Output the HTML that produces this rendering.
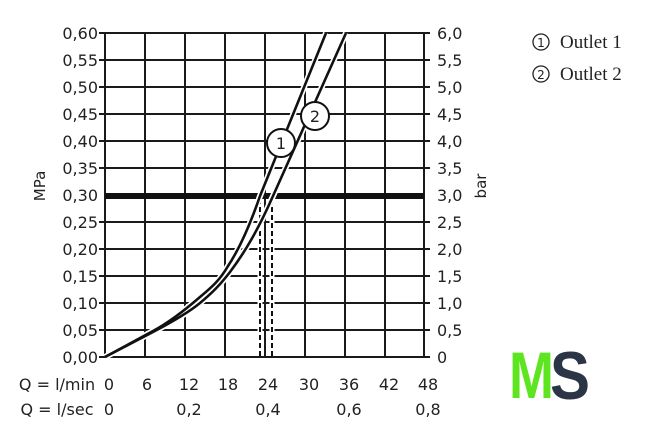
<!DOCTYPE html>
<html><head><meta charset="utf-8"><style>
html,body{margin:0;padding:0;background:#fff;width:652px;height:443px;overflow:hidden}
text{font-family:"DejaVu Sans","Liberation Sans",sans-serif;fill:#222}
</style></head><body>
<svg width="652" height="443" viewBox="0 0 652 443" xmlns="http://www.w3.org/2000/svg">
<g stroke="#1a1a1a" stroke-width="2">
<line x1="105" y1="33" x2="105" y2="357"/><line x1="145" y1="33" x2="145" y2="357"/><line x1="185" y1="33" x2="185" y2="357"/><line x1="225" y1="33" x2="225" y2="357"/><line x1="265" y1="33" x2="265" y2="357"/><line x1="305" y1="33" x2="305" y2="357"/><line x1="345" y1="33" x2="345" y2="357"/><line x1="385" y1="33" x2="385" y2="357"/><line x1="424" y1="33" x2="424" y2="357"/>
<line x1="99" y1="33" x2="430" y2="33"/><line x1="99" y1="60" x2="430" y2="60"/><line x1="99" y1="87" x2="430" y2="87"/><line x1="99" y1="114" x2="430" y2="114"/><line x1="99" y1="141" x2="430" y2="141"/><line x1="99" y1="168" x2="430" y2="168"/><line x1="99" y1="222" x2="430" y2="222"/><line x1="99" y1="249" x2="430" y2="249"/><line x1="99" y1="276" x2="430" y2="276"/><line x1="99" y1="303" x2="430" y2="303"/><line x1="99" y1="330" x2="430" y2="330"/><line x1="99" y1="357" x2="430" y2="357"/>
</g>
<line x1="105" y1="196" x2="424" y2="196" stroke="#111" stroke-width="6"/>
<g stroke="#fff" stroke-width="5"><line x1="260" y1="199" x2="260" y2="356"/><line x1="272" y1="199" x2="272" y2="356"/></g>
<g stroke="#111" stroke-width="2" stroke-dasharray="5,3"><line x1="260" y1="199" x2="260" y2="356"/><line x1="272" y1="199" x2="272" y2="356"/></g>
<g fill="none" stroke-linejoin="round">
<path d="M105,357 L153,331 C170,322 185,310 200,297 C212,287 220,280 228,266 C240,248 250,225 260,196 L326,33" stroke="#fff" stroke-width="6"/>
<path d="M105,357 L153,332 C172,322 188,313 200,303 C212,293 220,285 230,272 C245,252 258,230 273,196 L346,33" stroke="#fff" stroke-width="6"/>
<path d="M105,357 L153,331 C170,322 185,310 200,297 C212,287 220,280 228,266 C240,248 250,225 260,196 L326,33" stroke="#111" stroke-width="2.6"/>
<path d="M105,357 L153,332 C172,322 188,313 200,303 C212,293 220,285 230,272 C245,252 258,230 273,196 L346,33" stroke="#111" stroke-width="2.6"/>
</g>
<circle cx="281" cy="143" r="14" fill="#fff" stroke="#111" stroke-width="2"/>
<circle cx="315" cy="116" r="14" fill="#fff" stroke="#111" stroke-width="2"/>
<text x="281" y="149" font-size="16" text-anchor="middle">1</text>
<text x="315" y="122" font-size="16" text-anchor="middle">2</text>
<g font-size="16" text-anchor="end">
<text x="98" y="39">0,60</text><text x="98" y="66">0,55</text><text x="98" y="93">0,50</text><text x="98" y="120">0,45</text><text x="98" y="147">0,40</text><text x="98" y="174">0,35</text><text x="98" y="201">0,30</text><text x="98" y="228">0,25</text><text x="98" y="255">0,20</text><text x="98" y="282">0,15</text><text x="98" y="309">0,10</text><text x="98" y="336">0,05</text><text x="98" y="363">0,00</text>
</g>
<g font-size="16">
<text x="437" y="39">6,0</text><text x="437" y="66">5,5</text><text x="437" y="93">5,0</text><text x="437" y="120">4,5</text><text x="437" y="147">4,0</text><text x="437" y="174">3,5</text><text x="437" y="201">3,0</text><text x="437" y="228">2,5</text><text x="437" y="255">2,0</text><text x="437" y="282">1,5</text><text x="437" y="309">1,0</text><text x="437" y="336">0,5</text><text x="437" y="363">0</text>
</g>
<text transform="translate(45,186) rotate(-90)" font-size="15" text-anchor="middle">MPa</text>
<text transform="translate(486,186) rotate(-90)" font-size="15" text-anchor="middle">bar</text>
<g font-size="16" text-anchor="middle">
<text x="57" y="390">Q = l/min</text><text x="109" y="390">0</text><text x="147" y="390">6</text><text x="189" y="390">12</text><text x="228" y="390">18</text><text x="268" y="390">24</text><text x="309" y="390">30</text><text x="349" y="390">36</text><text x="389" y="390">42</text><text x="428" y="390">48</text>
<text x="57" y="415">Q = l/sec</text><text x="109" y="415">0</text><text x="189" y="415">0,2</text><text x="268" y="415">0,4</text><text x="349" y="415">0,6</text><text x="428" y="415">0,8</text>
</g>
<circle cx="541" cy="42" r="8" fill="none" stroke="#222" stroke-width="1.3"/><text x="541" y="47" font-size="12" text-anchor="middle">1</text>
<text x="560" y="48" font-size="19" style="font-family:'Liberation Serif',serif">Outlet 1</text>
<circle cx="541" cy="74" r="8" fill="none" stroke="#222" stroke-width="1.3"/><text x="541" y="79" font-size="12" text-anchor="middle">2</text>
<text x="560" y="80" font-size="19" style="font-family:'Liberation Serif',serif">Outlet 2</text>
<text x="509" y="398" font-size="66" font-weight="bold" style="font-family:'Liberation Sans',sans-serif;fill:#5de51f" textLength="45" lengthAdjust="spacingAndGlyphs">M</text>
<text x="550" y="399" font-size="68" font-weight="bold" style="font-family:'Liberation Sans',sans-serif;fill:#2b3545" textLength="40" lengthAdjust="spacingAndGlyphs">S</text>
</svg>
</body></html>
